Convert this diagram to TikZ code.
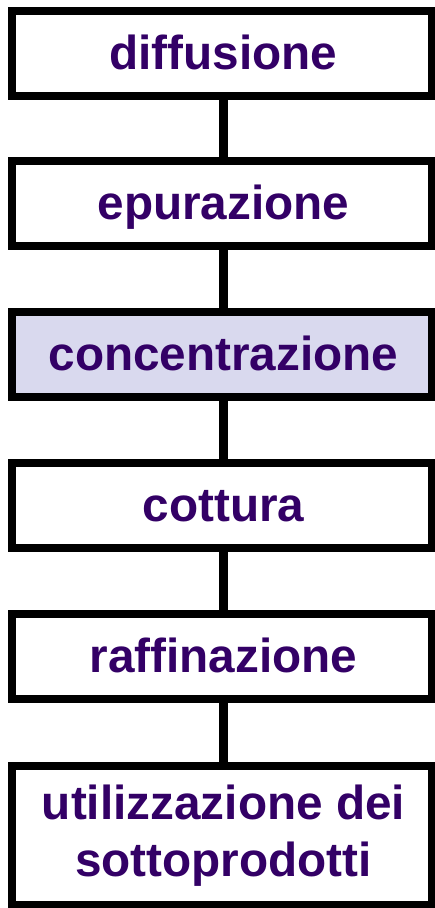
\documentclass[tikz,border=0pt]{standalone}
\usepackage{fontspec}
\setmainfont{Liberation Sans}
\definecolor{txtpurple}{RGB}{51,0,102}
\definecolor{lavender}{RGB}{217,217,238}
\tikzset{
  stepbox/.style={draw=black, line width=8pt, fill=white, minimum width=420pt,
    minimum height=85pt, inner sep=0pt, outer sep=0pt, text=txtpurple,
    font=\fontsize{47.7}{57}\selectfont\bfseries, align=center},
  onel/.style={text height=34pt, text depth=2pt},
  link/.style={line width=8.5pt, draw=black},
}
\begin{document}
\begin{tikzpicture}[x=1pt,y=-1pt]
\useasboundingbox (0,0) rectangle (435,908);
\node[stepbox,onel] (b1) at (221.5,53.25) {\hspace*{4pt}diffusione};
\node[stepbox,onel] (b2) at (221.5,203.5) {\hspace*{4pt}epurazione};
\node[stepbox,onel,fill=lavender] (b3) at (221.5,354.5) {\hspace*{4pt}concentrazione};
\node[stepbox,onel] (b4) at (221.5,505.5) {\hspace*{4pt}cottura};
\node[stepbox,onel] (b5) at (221.5,656.5) {\hspace*{4pt}raffinazione};
\node[stepbox,minimum height=139pt] (b6) at (221.5,835.5) {\hspace*{4pt}utilizzazione dei\\\hspace*{4pt}sottoprodotti};
\foreach \a/\b in {b1/b2,b2/b3,b3/b4,b4/b5,b5/b6}
  \draw[link] ([xshift=2pt]\a.south) -- ([xshift=2pt]\b.north);
\end{tikzpicture}
\end{document}
